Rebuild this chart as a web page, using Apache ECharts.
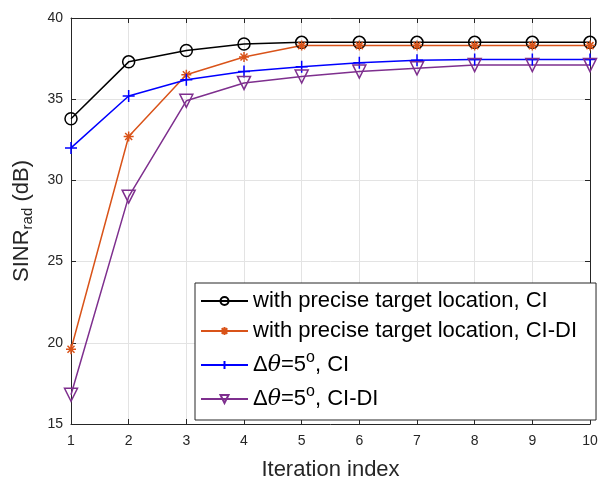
<!DOCTYPE html>
<html>
<head>
<meta charset="utf-8">
<script src="https://cdn.jsdelivr.net/npm/echarts@6/dist/echarts.min.js"></script>
<style>
  html, body { margin: 0; padding: 0; background: #fff; }
  #chart { width: 600px; height: 481px; }
</style>
</head>
<body>
<div id="chart"></div>
<script>
// data
const iterations = [1, 2, 3, 4, 5, 6, 7, 8, 9, 10];
const preciseCI = [33.8, 37.3, 38.0, 38.4, 38.5, 38.5, 38.5, 38.5, 38.5, 38.5];
const preciseCIDI = [19.6, 32.7, 36.5, 37.6, 38.3, 38.3, 38.3, 38.3, 38.3, 38.3];
const thetaCI = [32.0, 35.2, 36.2, 36.7, 37.0, 37.25, 37.4, 37.45, 37.45, 37.45];
const thetaCIDI = [16.8, 29.0, 34.9, 36.0, 36.4, 36.7, 36.9, 37.1, 37.1, 37.1];
const yTicks = [15, 20, 25, 30, 35, 40];

const font = "Arial, 'Liberation Sans', sans-serif";
const star = "path://M0,-10L0,10M-10,0L10,0M-7,-7L7,7M-7,7L7,-7";
const plus = "path://M0,-10L0,10M-10,0L10,0";

const names = ["s1", "s2", "s3", "s4"];
const legendText = {
  s1: "with precise target location, CI",
  s2: "with precise target location, CI-DI",
  s3: "{t|Δ}{i|θ}{t|=5}{sup|o}{t|, CI}",
  s4: "{t|Δ}{i|θ}{t|=5}{sup|o}{t|, CI-DI}"
};

function makeSeries(name, data, color, symbol, size, rotate) {
  return {
    name: name,
    type: "line",
    data: data.map((v, i) => [iterations[i], v]),
    symbol: symbol,
    symbolSize: size,
    symbolRotate: rotate || 0,
    lineStyle: { color: color, width: 1.5 },
    itemStyle: { color: "none", borderColor: color, borderWidth: 1.5 },
    emphasis: { disabled: true },
    animation: false,
    z: 3
  };
}

const chart = echarts.init(document.getElementById("chart"));
const option = {
  backgroundColor: "#fff",
  animation: false,
  grid: { left: 71, right: 10, top: 18, bottom: 57, outerBoundsMode: "none", containLabel: false },
  xAxis: [{
    type: "value",
    min: 1, max: 10, interval: 1,
    name: "Iteration index",
    nameLocation: "middle",
    nameGap: 35,
    nameTextStyle: { fontFamily: font, fontSize: 22, color: "#262626" },
    axisLine: { lineStyle: { color: "#262626" } },
    axisTick: { inside: true, length: 5, lineStyle: { color: "#262626" } },
    axisLabel: { fontFamily: font, fontSize: 14, color: "#262626", margin: 10 },
    splitLine: { show: true, lineStyle: { color: "#e3e3e3" } }
  }, {
    type: "value", position: "top",
    min: 1, max: 10, interval: 1,
    axisLine: { show: true, lineStyle: { color: "#262626" } },
    axisTick: { show: true, inside: true, length: 5, lineStyle: { color: "#262626" } },
    axisLabel: { show: false },
    splitLine: { show: false }
  }],
  yAxis: [{
    type: "value",
    min: yTicks[0], max: yTicks[yTicks.length - 1], interval: 5,
    name: "{t|SINR}{sub|rad}{t| (dB)}",
    nameLocation: "middle",
    nameGap: 36,
    nameTextStyle: {
      rich: {
        t: { fontFamily: font, fontSize: 22, color: "#262626" },
        sub: { fontFamily: font, fontSize: 15, color: "#262626", verticalAlign: "bottom", padding: [12, 0, 0, 0] }
      }
    },
    axisLine: { show: true, lineStyle: { color: "#262626" } },
    axisTick: { show: true, inside: true, length: 5, lineStyle: { color: "#262626" } },
    axisLabel: { fontFamily: font, fontSize: 14, color: "#262626", margin: 8 },
    splitLine: { show: true, lineStyle: { color: "#e3e3e3" } }
  }, {
    type: "value", position: "right",
    min: yTicks[0], max: yTicks[yTicks.length - 1], interval: 5,
    axisLine: { show: true, lineStyle: { color: "#262626" } },
    axisTick: { show: true, inside: true, length: 5, lineStyle: { color: "#262626" } },
    axisLabel: { show: false },
    splitLine: { show: false }
  }],
  legend: {
    data: names,
    orient: "vertical",
    left: 195,
    top: 283,
    itemWidth: 47,
    itemHeight: 10,
    itemGap: 8,
    padding: [7, 19, 10, 5],
    backgroundColor: "#fff",
    borderColor: "#262626",
    borderWidth: 1,
    borderRadius: 0,
    formatter: function (name) { return legendText[name]; },
    textStyle: {
      fontFamily: font, fontSize: 22, color: "#000",
      rich: {
        t: { fontFamily: font, fontSize: 22, color: "#000" },
        i: { fontFamily: "'DejaVu Serif', 'Liberation Serif', serif", fontStyle: "italic", fontSize: 22, color: "#000" },
        sup: { fontFamily: font, fontSize: 16, color: "#000", verticalAlign: "top", padding: [0, 0, 14, 0] }
      }
    }
  },
  series: [
    makeSeries(names[0], preciseCI, "#000000", "circle", 12),
    makeSeries(names[1], preciseCIDI, "#d95319", star, 10),
    makeSeries(names[2], thetaCI, "#0000ff", plus, 12),
    makeSeries(names[3], thetaCIDI, "#7e2f8e", "triangle", 13, 180)
  ]
};
chart.setOption(option);
</script>
</body>
</html>
